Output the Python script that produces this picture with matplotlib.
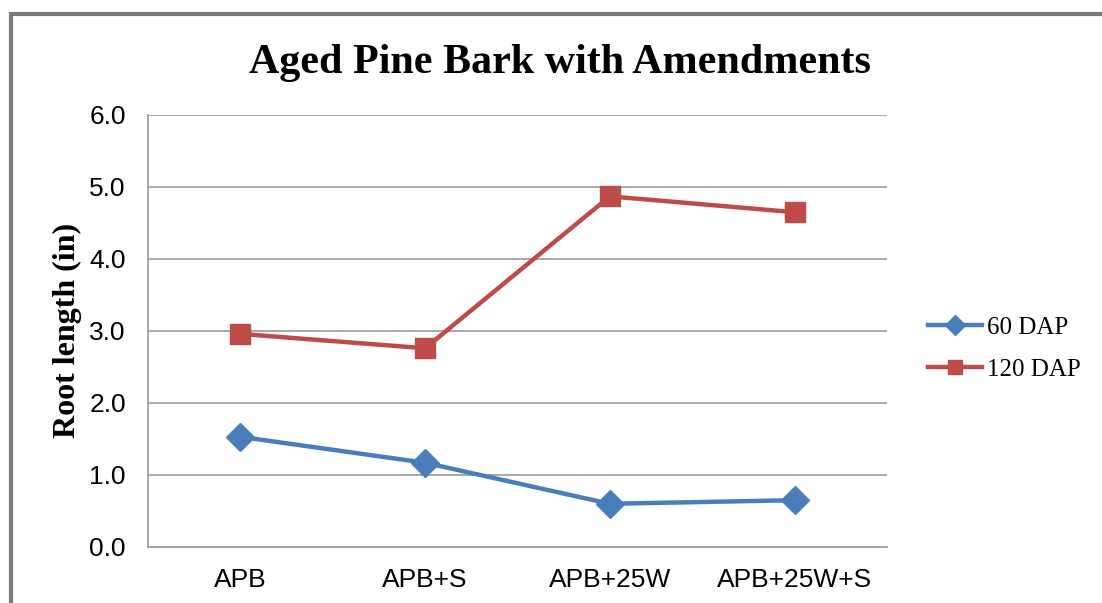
import matplotlib.pyplot as plt
from matplotlib.patches import Rectangle

categories = ['APB', 'APB+S', 'APB+25W', 'APB+25W+S']
dap_60 = [1.53, 1.17, 0.60, 0.65]
dap_120 = [2.96, 2.76, 4.87, 4.65]
y_ticks = [0.0, 1.0, 2.0, 3.0, 4.0, 5.0, 6.0]

W, H = 1102, 603
fig = plt.figure(figsize=(W / 100, H / 100), dpi=100)

# gray chart border, running off the right and bottom edges
fig.patches.append(Rectangle((11 / W, -0.1), 1.2, 1 - 14 / H + 0.1,
                             transform=fig.transFigure, fill=False,
                             edgecolor='#7a7a7a', linewidth=3))

ax = fig.add_axes([148 / W, 1 - 547 / H, 739 / W, 432 / H])
x = list(range(len(categories)))
ax.plot(x, dap_60, color='#4a7ebb', linewidth=3.2, marker='D', markersize=14,
        label='60 DAP')
ax.plot(x, dap_120, color='#be4b48', linewidth=3.2, marker='s', markersize=15,
        label='120 DAP')

ax.set_xlim(-0.5, 3.5)
ax.set_ylim(0, 6)
ax.set_yticks(y_ticks)
ax.set_yticklabels([f'{v:.1f}' for v in y_ticks], fontfamily='Liberation Sans',
                   fontsize=19)
ax.set_xticks(x)
ax.set_xticklabels(categories, fontfamily='Liberation Sans', fontsize=19)
ax.tick_params(length=0)
ax.tick_params(axis='y', pad=16)
ax.tick_params(axis='x', pad=15)
ax.grid(axis='y', color='#a0a0a0', linewidth=1.3)
ax.set_axisbelow(True)
for side in ['top', 'right']:
    ax.spines[side].set_visible(False)
for side in ['left', 'bottom']:
    ax.spines[side].set_color('#a0a0a0')
    ax.spines[side].set_linewidth(1.3)

fig.text(67 / W, 1 - 330 / H, 'Root length (in)', rotation=90,
         fontfamily='Liberation Serif', fontweight='bold', fontsize=23,
         ha='center', va='center')
fig.text(560 / W, 1 - 73 / H, 'Aged Pine Bark with Amendments',
         fontfamily='Liberation Serif', fontweight='bold', fontsize=30.3,
         ha='center', va='baseline')

fig.legend(loc='center left', bbox_to_anchor=(928 / W, 1 - 348.5 / H),
           bbox_transform=fig.transFigure, frameon=False, borderpad=0,
           borderaxespad=0, prop={'family': 'Liberation Serif', 'size': 18},
           handlelength=2.16, handletextpad=0.2, labelspacing=0.8,
           markerscale=0.7)

fig.savefig('out.png', dpi=100)
